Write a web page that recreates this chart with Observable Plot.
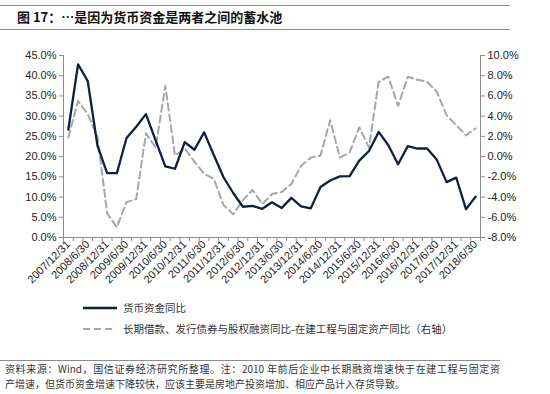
<!DOCTYPE html>
<html><head><meta charset="utf-8">
<script src="https://cdn.jsdelivr.net/npm/d3@7"></script>
<script src="https://cdn.jsdelivr.net/npm/@observablehq/plot@0.6"></script>
<style>
html,body{margin:0;padding:0;background:#fff;}
body{width:550px;height:394px;position:relative;overflow:hidden;font-family:"Noto Sans CJK SC","Liberation Sans",sans-serif;color:#222;}
#chart{position:absolute;left:0;top:0;}
.rule{position:absolute;height:0;border-top:1px solid #8c8c8c;}
#title{position:absolute;left:17px;top:8px;font-size:13px;font-weight:bold;line-height:18px;white-space:nowrap;color:#111;}
.lg{position:absolute;font-size:10.5px;line-height:14px;white-space:nowrap;color:#333;}
.sw{position:absolute;}
.foot{position:absolute;left:5px;width:495px;font-size:10px;line-height:14.5px;height:14.5px;color:#333;white-space:nowrap;}
#foot1{top:362px;text-align:justify;text-align-last:justify;}
#foot2{top:377px;}
</style></head><body>
<div class="rule" style="left:0;top:5px;width:510px"></div>
<div id="title">图 17：…是因为货币资金是两者之间的蓄水池</div>
<div class="rule" style="left:0;top:29px;width:510px"></div>
<div id="chart"></div>
<svg class="sw" style="left:80px;top:300px" width="40" height="40">
  <line x1="3" y1="8" x2="37" y2="8" stroke="#0f1f3d" stroke-width="2.5"/>
  <line x1="3" y1="29" x2="32" y2="29" stroke="#a6a6a6" stroke-width="2" stroke-dasharray="7,4"/>
</svg>
<div class="lg" style="left:123px;top:301px">货币资金同比</div>
<div class="lg" style="left:123px;top:322px">长期借款、发行债券与股权融资同比-在建工程与固定资产同比（右轴）</div>
<div class="rule" style="left:0;top:360px;width:500px"></div>
<div class="foot" id="foot1">资料来源：Wind，国信证券经济研究所整理。注：2010 年前后企业中长期融资增速快于在建工程与固定资</div>
<div class="foot" id="foot2">产增速，但货币资金增速下降较快，应该主要是房地产投资增加、相应产品计入存货导致。</div>
<script>
const quarters = [
  "2007/12/31",
  "2008/3/31","2008/6/30","2008/9/30","2008/12/31",
  "2009/3/31","2009/6/30","2009/9/30","2009/12/31",
  "2010/3/31","2010/6/30","2010/9/30","2010/12/31",
  "2011/3/31","2011/6/30","2011/9/30","2011/12/31",
  "2012/3/31","2012/6/30","2012/9/30","2012/12/31",
  "2013/3/31","2013/6/30","2013/9/30","2013/12/31",
  "2014/3/31","2014/6/30","2014/9/30","2014/12/31",
  "2015/3/31","2015/6/30","2015/9/30","2015/12/31",
  "2016/3/31","2016/6/30","2016/9/30","2016/12/31",
  "2017/3/31","2017/6/30","2017/9/30","2017/12/31",
  "2018/3/31","2018/6/30"
];
// 货币资金同比 (left axis, %)
const cashYoY = [
  26.7,
  42.8,38.7,22.7,15.9,
  15.9,24.6,27.4,30.5,
  24.0,17.6,17.0,23.6,
  21.7,26.0,20.4,14.9,
  11.0,7.6,7.8,7.1,
  8.7,7.3,9.8,7.7,
  7.2,12.5,14.1,15.1,
  15.2,19.0,21.4,26.1,
  22.8,18.1,22.6,22.0,
  22.0,19.2,13.7,14.8,
  7.0,10.1
];
// 长期借款、发行债券与股权融资同比-在建工程与固定资产同比 (right axis, %)
const financingGap = [
  1.9,
  5.5,4.2,2.0,-5.6,
  -7.0,-4.5,-4.2,2.3,
  0.9,7.0,0.1,0.8,
  -0.5,-1.7,-2.2,-4.8,
  -5.7,-4.3,-3.3,-4.7,
  -3.7,-3.5,-2.7,-0.9,
  -0.1,0.1,3.6,-0.1,
  0.4,2.9,0.9,7.4,
  7.9,5.0,7.9,7.6,
  7.4,6.4,4.1,3.1,
  2.1,2.8
];
const leftTicks = [0,5,10,15,20,25,30,35,40,45];
const rightTicks = [-8,-6,-4,-2,0,2,4,6,8,10];
const leftDomain = [0,45];
const rightDomain = [-8,10];

// map right-axis values onto the left scale
const k = (leftDomain[1]-leftDomain[0])/(rightDomain[1]-rightDomain[0]);
const toLeft = v => leftDomain[0] + (v - rightDomain[0]) * k;
const fromLeft = d => rightDomain[0] + (d - leftDomain[0]) / k;

const cashData = quarters.map((q,i)=>({i, v: cashYoY[i]}));
const gapData = quarters.map((q,i)=>({i, v: toLeft(financingGap[i])}));
const edgeTicks = d3.range(-0.5, quarters.length, 1);
const labelTicks = quarters.map((q,i)=>i).filter(i=>i%2===0);
const axisColor = "#8c8c8c";
const fmt = d => (Math.abs(d) < 1e-9 ? 0 : d).toFixed(1) + "%";

const chart = Plot.plot({
  width: 550, height: 300,
  marginTop: 55, marginBottom: 63, marginLeft: 63, marginRight: 70,
  style: {fontFamily: "'Liberation Sans', Arial, sans-serif", fontSize: "11px", color: "#222", background: "transparent", overflow: "visible"},
  x: {type: "linear", domain: [-0.5, quarters.length - 0.5]},
  y: {domain: leftDomain},
  marks: [
    Plot.ruleX([-0.5], {stroke: axisColor}),
    Plot.ruleX([quarters.length - 0.5], {stroke: axisColor}),
    Plot.ruleY([leftDomain[0]], {stroke: axisColor}),
    Plot.axisY(leftTicks, {anchor: "left", tickSize: 4, tickPadding: 3, stroke: axisColor, fill: "#222", tickFormat: fmt, label: null}),
    Plot.axisY(rightTicks.map(toLeft), {anchor: "right", tickSize: 4, tickPadding: 3, stroke: axisColor, fill: "#222", tickFormat: d => fmt(fromLeft(d)), label: null}),
    Plot.axisX(edgeTicks, {tickSize: 4, stroke: axisColor, tickFormat: () => "", label: null}),
    Plot.axisX(labelTicks, {tickSize: 0, tickPadding: 5, tickRotate: -45, fill: "#222", tickFormat: i => quarters[i], label: null}),
    Plot.line(gapData, {x: "i", y: "v", stroke: "#a6a6a6", strokeWidth: 2, strokeDasharray: "7,4"}),
    Plot.line(cashData, {x: "i", y: "v", stroke: "#0f1f3d", strokeWidth: 2.3})
  ]
});
document.getElementById("chart").appendChild(chart);
</script>
</body></html>
